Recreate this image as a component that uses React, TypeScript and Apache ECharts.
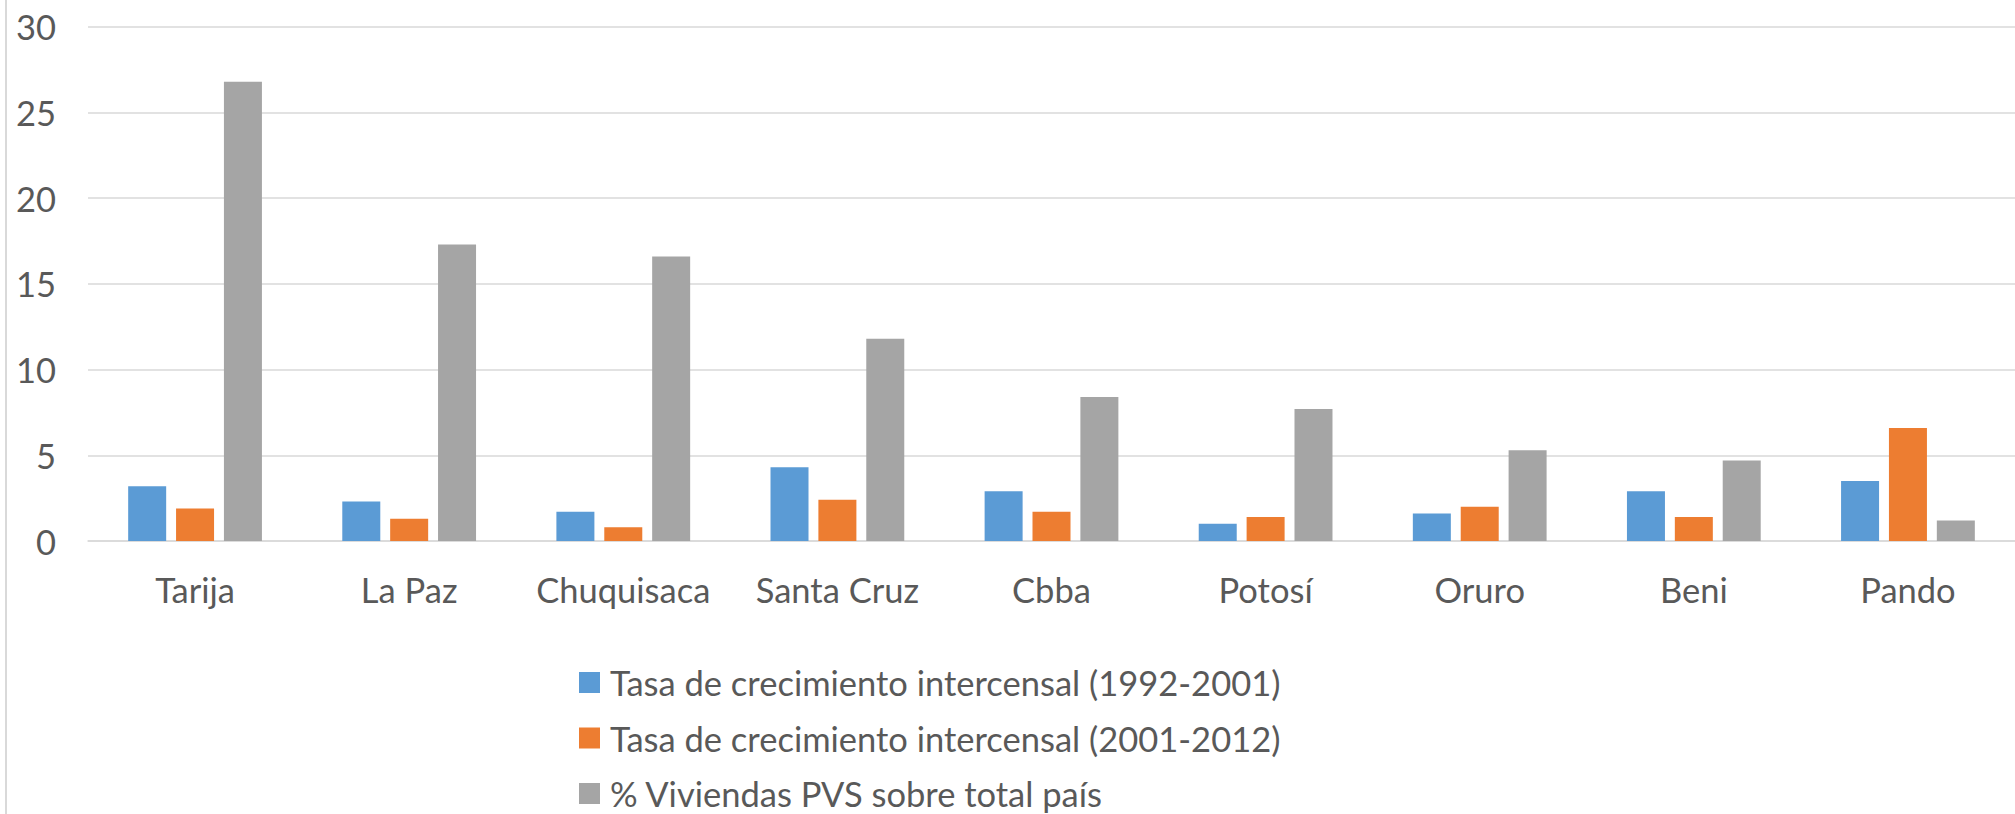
import React, { useEffect, useRef } from "react";
import * as echarts from "echarts";

const categories = ["Tarija", "La Paz", "Chuquisaca", "Santa Cruz", "Cbba", "Potosí", "Oruro", "Beni", "Pando"];
const seriesNames = [
  "Tasa de crecimiento intercensal (1992-2001)",
  "Tasa de crecimiento intercensal (2001-2012)",
  "% Viviendas PVS sobre total país",
];
const rate1992to2001 = [3.2, 2.3, 1.7, 4.3, 2.9, 1.0, 1.6, 2.9, 3.5];
const rate2001to2012 = [1.9, 1.3, 0.8, 2.4, 1.7, 1.4, 2.0, 1.4, 6.6];
const pvsShare = [26.8, 17.3, 16.6, 11.8, 8.4, 7.7, 5.3, 4.7, 1.2];
const colors = ["#5B9BD5", "#ED7D31", "#A5A5A5"];
const yMin = 0;
const yMax = 30;
const yStep = 5;

const FONT = "Lato, 'Open Sans', sans-serif";
const TEXT = "#595959";
const FS = 34.5;

export default function App() {
  const ref = useRef<HTMLDivElement>(null);
  useEffect(() => {
    document.body.style.margin = "0";
    if (!ref.current) return;
    const chart = echarts.init(ref.current, undefined, { renderer: "svg" });
    const values = [rate1992to2001, rate2001to2012, pvsShare];
    chart.setOption({
      animation: false,
      backgroundColor: "#ffffff",
      textStyle: { fontFamily: FONT },
      grid: { left: 88, top: 26.8, width: 1939.5, bottom: 273, containLabel: false },
      graphic: [
        {
          type: "line",
          shape: { x1: 6, y1: 0, x2: 6, y2: 814 },
          style: { stroke: "#d9d9d9", lineWidth: 2 },
        },
      ],
      legend: {
        orient: "vertical",
        left: 579,
        top: 665,
        height: 240,
        padding: 0,
        itemWidth: 21,
        itemHeight: 21,
        itemGap: 20.5,
        icon: "rect",
        data: seriesNames,
        textStyle: {
          fontFamily: FONT,
          fontSize: FS,
          color: TEXT,
          lineHeight: 32,
          padding: [0, 0, 0, 5],
        },
      },
      xAxis: {
        type: "category",
        data: categories,
        axisLine: { show: true, lineStyle: { color: "#d9d9d9", width: 1.5 } },
        axisTick: { show: false },
        axisLabel: { fontFamily: FONT, fontSize: FS, color: TEXT, margin: 31, interval: 0 },
      },
      yAxis: {
        type: "value",
        min: yMin,
        max: yMax,
        interval: yStep,
        axisLine: { show: false },
        axisTick: { show: false },
        splitLine: { lineStyle: { color: "#d9d9d9", width: 1.5 } },
        axisLabel: { fontFamily: FONT, fontSize: FS, color: TEXT, margin: 32 },
      },
      series: seriesNames.map((name, i) => ({
        name,
        type: "bar",
        data: values[i],
        barWidth: 38,
        barGap: "26%",
        itemStyle: { color: colors[i] },
      })),
    });
    return () => chart.dispose();
  }, []);
  return <div ref={ref} style={{ width: 2015, height: 814 }} />;
}
